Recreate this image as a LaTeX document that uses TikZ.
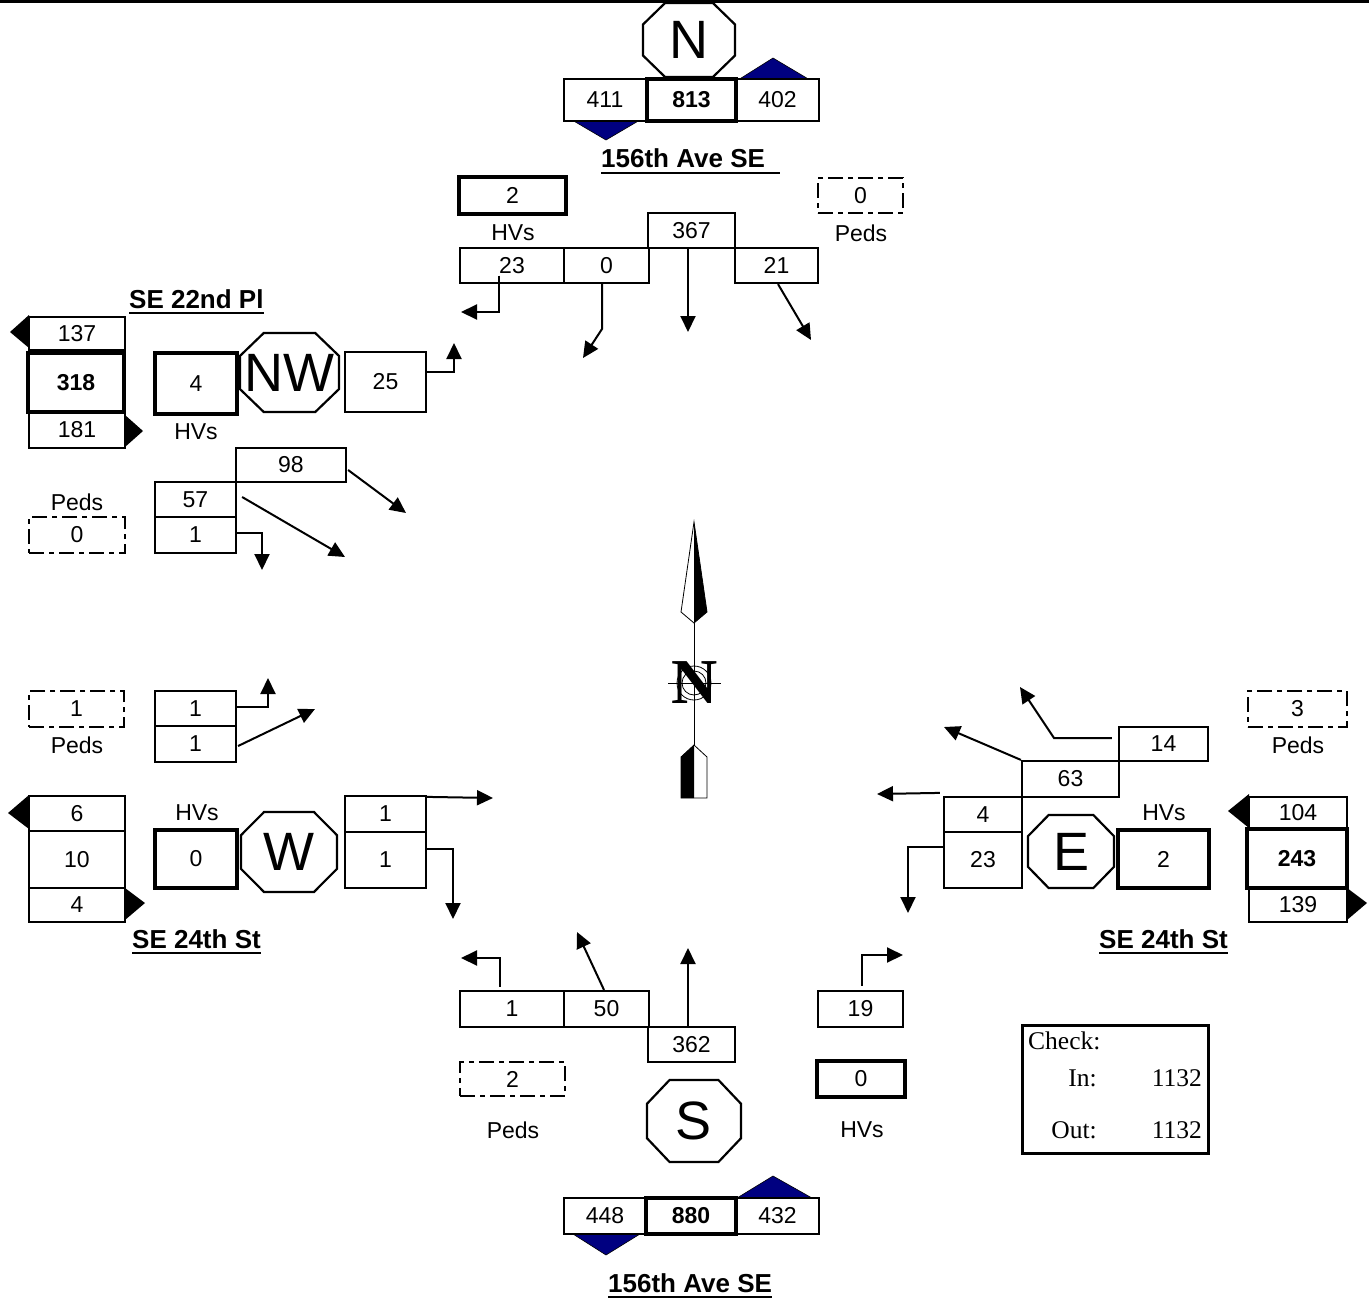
\documentclass[tikz,border=0pt]{standalone}
\usepackage{fontspec}
\setmainfont{Liberation Sans}
\newfontfamily\timesfam{Liberation Serif}
\usetikzlibrary{arrows.meta}
\definecolor{navyblue}{RGB}{0,0,128}
\newcommand\bx[7][]{%
  \pgfmathsetmacro\bxw{#5-#3}%
  \pgfmathsetmacro\bxh{#6-#4}%
  \node[cell,#1,minimum width=\bxw pt,minimum height=\bxh pt] (#2) at ({(#3+#5)/2},{(#4+#6)/2}) {#7};}
\newcommand\oct[6]{%
  \pgfmathsetmacro\ocx{0.24*(#4-#2)}%
  \pgfmathsetmacro\ocy{0.29*(#5-#3)}%
  \draw[octline] (#2+\ocx,#3) -- (#4-\ocx,#3) -- (#4,#3+\ocy) -- (#4,#5-\ocy) -- (#4-\ocx,#5) -- (#2+\ocx,#5) -- (#2,#5-\ocy) -- (#2,#3+\ocy) -- cycle;
  \node[octtext] (#1) at ({(#2+#4)/2},{(#3+#5)/2}) {#6};}
\tikzset{
 cell/.style={draw, line width=2.2pt, inner sep=0pt, fill=white, font=\fontsize{23}{27}\selectfont},
 thickbox/.style={line width=4.5pt},
 boldnum/.style={font=\fontsize{23}{27}\selectfont\bfseries},
 pedbox/.style={line width=2.6pt, dash pattern=on 15pt off 5pt on 5pt off 5pt},
 lbl/.style={inner sep=0pt, font=\fontsize{23}{27}\selectfont},
 street/.style={inner sep=0pt, font=\fontsize{26}{30}\selectfont\bfseries},
 uline/.style={line width=2pt},
 flow/.style={line width=2pt, -{Triangle[length=16pt,width=15pt]}},
 octline/.style={line width=2.2pt, line join=miter},
 octtext/.style={inner sep=0pt, font=\fontsize{54}{60}\selectfont},
 chk/.style={inner sep=0pt, font=\timesfam\fontsize{25.5}{28}\selectfont},
 checkbox/.style={line width=3pt, fill=none},
 blacktri/.style={fill=black},
 navytri/.style={fill=navyblue, draw=black, line width=0.6pt},
}
\begin{document}
\begin{tikzpicture}[x=1pt,y=-1pt]
\useasboundingbox (0,0) rectangle (1369,1301);
\fill[black] (0,0) rectangle (1369,3);

% ---------- North ----------
\oct{octN}{643}{3}{735}{77}{N}
\filldraw[navytri] (572,120) -- (640,120) -- (606,140) -- cycle;
\filldraw[navytri] (738,80) -- (810,80) -- (773,58) -- cycle;
\bx{t411}{564}{79}{646}{121}{411}
\bx{t402}{736}{79}{819}{121}{402}
\bx[thickbox,boldnum]{t813}{647}{79}{736}{121}{813}
\node[street, anchor=base west] (stN) at (601,167) {156th Ave SE};
\draw[uline] ([yshift=-6pt]stN.base west) -- ([yshift=-6pt,xshift=15pt]stN.base east);
\bx[thickbox]{hvN}{459}{177}{566}{214}{2}
\node[lbl] (hvNl) at (513,233) {HVs};
\bx[pedbox]{pdN}{818}{178}{903}{213}{0}
\node[lbl] (pdNl) at (861,233) {Peds};
\bx{nN367}{648}{213}{735}{248}{367}
\bx{nN23}{460}{248}{564}{283}{23}
\bx{nN0}{564}{248}{649}{283}{0}
\bx{nN21}{735}{248}{818}{283}{21}
\coordinate (aN23) at (461,312);
\draw[flow] ([xshift=-13pt,yshift=-10pt]nN23.center) |- (aN23);
\coordinate (bN0) at (602,329);
\coordinate (aN0) at (583,358);
\draw[flow] ([xshift=-4.5pt]nN0.south) -- (bN0) -- (aN0);
\coordinate (aN367) at (688,332);
\draw[flow] ([xshift=-3.5pt]nN367.south) -- (aN367);
\coordinate (aN21) at (811,340);
\draw[flow] ([xshift=1.5pt]nN21.south) -- (aN21);

% ---------- North-west ----------
\node[street, anchor=base west] (stNW) at (129,308) {SE 22nd Pl};
\draw[uline] ([yshift=-5pt]stNW.base west) -- ([yshift=-5pt]stNW.base east);
\fill[blacktri] (10,332) -- (29,315) -- (29,348) -- cycle;
\fill[blacktri] (125,415) -- (143,431) -- (125,447) -- cycle;
\bx{nw137}{29}{317}{125}{350}{137}
\bx{nw181}{29}{412}{125}{448}{181}
\bx[thickbox,boldnum]{nw318}{28}{353}{124}{412}{318}
\bx[thickbox]{hvNW}{155}{353}{237}{414}{4}
\node[lbl] (hvNWl) at (196,432) {HVs};
\oct{octNW}{240}{333}{339}{412}{NW}
\bx{nw25}{345}{352}{426}{412}{25}
\bx{nw98}{236}{448}{346}{482}{98}
\bx{nw57}{155}{482}{236}{517}{57}
\bx{nw1}{155}{517}{236}{553}{1}
\node[lbl] (pdNWl) at (77,502) {Peds};
\bx[pedbox]{pdNW}{29}{517}{125}{553}{0}
\coordinate (aNW25) at (454,343);
\draw[flow] ([yshift=10pt]nw25.east) -| (aNW25);
\coordinate (aNW98) at (406,513);
\draw[flow] ([yshift=-5pt,xshift=1pt]nw98.east) -- (aNW98);
\coordinate (aNW57) at (345,557);
\draw[flow] ([xshift=5pt,yshift=2.5pt]nw57.east) -- (aNW57);
\coordinate (aNW1) at (262,570);
\draw[flow] ([yshift=2pt]nw1.east) -| (aNW1);

% ---------- West ----------
\bx[pedbox]{pdW}{29}{691}{124}{727}{1}
\node[lbl] (pdWl) at (77,745) {Peds};
\bx{w1a}{155}{691}{236}{726}{1}
\bx{w1b}{155}{726}{236}{762}{1}
\fill[blacktri] (8,813) -- (29,795) -- (29,829) -- cycle;
\fill[blacktri] (125,888) -- (145,903) -- (125,920) -- cycle;
\bx{w6}{29}{796}{125}{831}{6}
\bx{w10}{29}{831}{125}{888}{10}
\bx{w4}{29}{888}{125}{922}{4}
\node[lbl] (hvWl) at (197,813) {HVs};
\bx[thickbox]{hvW}{155}{830}{237}{888}{0}
\oct{octW}{241}{812}{337}{892}{W}
\bx{wr1a}{345}{796}{426}{832}{1}
\bx{wr1b}{345}{832}{426}{888}{1}
\node[street, anchor=base west] (stW) at (132,948) {SE 24th St};
\draw[uline] ([yshift=-5pt]stW.base west) -- ([yshift=-5pt]stW.base east);
\coordinate (aW1a) at (268,678);
\draw[flow] ([yshift=1.5pt]w1a.east) -| (aW1a);
\coordinate (aW1b) at (315,709);
\draw[flow] ([yshift=-2pt,xshift=1pt]w1b.east) -- (aW1b);
\coordinate (aWr1a) at (493,798);
\draw[flow] ([yshift=-2pt]wr1a.north east) -- (aWr1a);
\coordinate (aWr1b) at (453,919);
\draw[flow] ([yshift=11pt]wr1b.east) -| (aWr1b);

% ---------- East ----------
\bx[pedbox]{pdE}{1248}{691}{1347}{727}{3}
\node[lbl] (pdEl) at (1298,745) {Peds};
\bx{e14}{1119}{727}{1208}{761}{14}
\bx{e63}{1022}{761}{1119}{797}{63}
\bx{e4}{944}{797}{1022}{832}{4}
\bx{e23}{944}{832}{1022}{888}{23}
\oct{octE}{1028}{815}{1114}{888}{E}
\node[lbl] (hvEl) at (1164,813) {HVs};
\bx[thickbox]{hvE}{1118}{830}{1209}{888}{2}
\fill[blacktri] (1228,811) -- (1249,794) -- (1249,828) -- cycle;
\fill[blacktri] (1347,888) -- (1367,903) -- (1347,920) -- cycle;
\bx{e104}{1249}{797}{1347}{829}{104}
\bx{e139}{1249}{888}{1347}{922}{139}
\bx[thickbox,boldnum]{e243}{1247}{829}{1347}{888}{243}
\node[street, anchor=base west] (stE) at (1099,948) {SE 24th St};
\draw[uline] ([yshift=-5pt]stE.base west) -- ([yshift=-5pt]stE.base east);
\coordinate (bE14) at (1054,738);
\coordinate (aE14) at (1020,687);
\draw[flow] ([xshift=-6pt,yshift=6pt]e14.west) -- (bE14) -- (aE14);
\coordinate (aE63) at (944,727);
\draw[flow] (e63.north west) -- (aE63);
\coordinate (aE4) at (877,794);
\draw[flow] ([xshift=-3pt,yshift=3pt]e4.north west) -- (aE4);
\coordinate (aE23) at (908,913);
\draw[flow] ([yshift=13pt]e23.west) -| (aE23);

% ---------- South ----------
\bx{s1}{460}{991}{564}{1027}{1}
\bx{s50}{564}{991}{649}{1027}{50}
\bx{s362}{648}{1027}{735}{1062}{362}
\bx{s19}{818}{991}{903}{1027}{19}
\bx[pedbox]{pdS}{460}{1062}{565}{1096}{2}
\node[lbl] (pdSl) at (513,1130) {Peds};
\oct{octS}{647}{1080}{741}{1162}{S}
\bx[thickbox]{hvS}{817}{1061}{905}{1097}{0}
\node[lbl] (hvSl) at (862,1130) {HVs};
\filldraw[navytri] (573,1234) -- (640,1234) -- (606,1255) -- cycle;
\filldraw[navytri] (737,1198) -- (812,1198) -- (773,1176) -- cycle;
\bx{s448}{564}{1198}{646}{1234}{448}
\bx{s432}{736}{1198}{819}{1234}{432}
\bx[thickbox,boldnum]{s880}{646}{1198}{736}{1234}{880}
\node[street, anchor=base west] (stS) at (608,1292) {156th Ave SE};
\draw[uline] ([yshift=-5pt]stS.base west) -- ([yshift=-5pt]stS.base east);
\coordinate (aS1) at (461,958);
\draw[flow] ([xshift=-12pt,yshift=3pt]s1.north) |- (aS1);
\coordinate (aS50) at (577,932);
\draw[flow] ([xshift=-2.5pt]s50.north) -- (aS50);
\coordinate (aS362) at (688,948);
\draw[flow] ([xshift=-3.5pt]s362.north) -- (aS362);
\coordinate (aS19) at (903,955);
\draw[flow] ([xshift=1.5pt,yshift=4pt]s19.north) |- (aS19);

% ---------- Check box ----------
\bx[checkbox]{chk}{1022}{1025}{1208}{1153}{}
\node[chk, anchor=base west] (chkT) at (1028,1049) {Check:};
\node[chk, anchor=base east] (inL) at (1097,1086) {In:};
\node[chk, anchor=base east] (inV) at (1202,1086) {1132};
\node[chk, anchor=base east] (outL) at (1097,1138) {Out:};
\node[chk, anchor=base east] (outV) at (1202,1138) {1132};

% ---------- Compass ----------
\draw[line width=0.8pt, fill=white] (694,522) -- (707,612) -- (694,623) -- (681,612) -- cycle;
\fill[black] (694,522) -- (707,612) -- (694,623) -- cycle;
\node[inner sep=0pt, font=\timesfam\bfseries\fontsize{64}{68}\selectfont] (compN) at (695,683) {N};
\draw[line width=0.8pt] (694,623) -- (694,745);
\draw[line width=0.8pt] (694,683) circle[radius=17pt];
\draw[line width=0.8pt] (694,683) circle[radius=12pt];
\draw[line width=0.8pt] (668,683) -- (721,683);
\draw[line width=0.8pt, fill=white] (694,745) -- (707,757) -- (707,798) -- (681,798) -- (681,757) -- cycle;
\fill[black] (694,745) -- (681,757) -- (681,798) -- (694,798) -- cycle;
\end{tikzpicture}
\end{document}
